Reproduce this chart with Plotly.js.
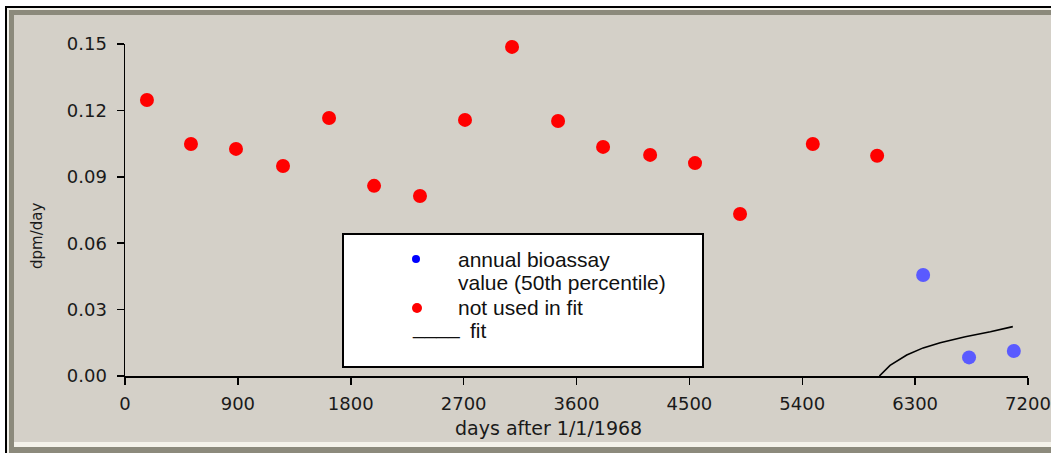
<!DOCTYPE html>
<html>
<head>
<meta charset="utf-8">
<script src="https://cdn.plot.ly/plotly-3.0.1.min.js"></script>
<style>
html,body{margin:0;padding:0;background:#ffffff;overflow:hidden;}
#chart{width:1051px;height:453px;}
</style>
</head>
<body>
<div id="chart"></div>
<script>
// ---- data ----
const notUsedDays = [175, 526, 885, 1260, 1627, 1986, 2352, 2711, 3086, 3453, 3812, 4187, 4545, 4904, 5484, 5997];
const notUsedDpm  = [0.1247, 0.1048, 0.1026, 0.0949, 0.1166, 0.0859, 0.0813, 0.1157, 0.1487, 0.1152, 0.1035, 0.0999, 0.0962, 0.0732, 0.1048, 0.0995];

const bioassayDays = [6364, 6730, 7087];
const bioassayDpm  = [0.0456, 0.0084, 0.0113];

const fitDays = [6015, 6100, 6233, 6364, 6500, 6700, 6900, 7079];
const fitDpm  = [0.0, 0.0048, 0.0095, 0.0127, 0.0150, 0.0177, 0.0200, 0.0223];

const xTickVals = [0, 900, 1800, 2700, 3600, 4500, 5400, 6300, 7200];
const yTickVals = [0, 0.03, 0.06, 0.09, 0.12, 0.15];

const legendLabels = ["annual bioassay", "value (50th percentile)", "not used in fit", "fit"];

// ---- layout geometry (pixels) ----
const W = 1051, H = 453;
const L = 125, R = 23, T = 44, B = 77;
const PW = W - L - R, PH = H - T - B;
const px = x => (x - L) / PW;
const py = y => (H - B - y) / PH;

const bg = '#d4d0c8';

const traces = [
  {
    x: fitDays, y: fitDpm, type: 'scatter', mode: 'lines',
    line: {color: '#000000', width: 1.6}, hoverinfo: 'skip', cliponaxis: false
  },
  {
    x: notUsedDays, y: notUsedDpm, type: 'scatter', mode: 'markers',
    marker: {color: '#ff0000', size: 14, line: {width: 0}}, cliponaxis: false
  },
  {
    x: bioassayDays, y: bioassayDpm, type: 'scatter', mode: 'markers',
    marker: {color: '#5a5aff', size: 14, line: {width: 0}}, cliponaxis: false
  }
];

function rectPx(x0, y0, x1, y1, fill, line, layer) {
  return {type: 'rect', xref: 'paper', yref: 'paper',
    x0: px(x0), x1: px(x1), y0: py(y1), y1: py(y0),
    fillcolor: fill, line: line || {width: 0}, layer: layer || 'below'};
}
function circlePx(cx, cy, r, fill) {
  return {type: 'circle', xref: 'paper', yref: 'paper',
    x0: px(cx - r), x1: px(cx + r), y0: py(cy + r), y1: py(cy - r),
    fillcolor: fill, line: {width: 0}, layer: 'above'};
}

const shapes = [
  // window frame
  rectPx(5, 6, 1100, 500, '#000000'),
  rectPx(7, 8, 1100, 500, '#f3f1ea'),
  rectPx(9, 10, 1100, 500, '#8c8a7c'),
  rectPx(14, 15, 1100, 442, bg),
  rectPx(14, 442, 1100, 447, '#f4f2ea'),
  rectPx(14, 447, 1100, 500, '#8c8a7c'),
  // legend box
  rectPx(343, 234, 703, 367, '#ffffff', {color: '#000000', width: 2}, 'above'),
  circlePx(416, 259, 4, '#0000ff'),
  circlePx(417, 308, 5, '#ff0000')
];

const legFont = {family: 'Liberation Sans, Arial, sans-serif', size: 21, color: '#111111'};
function ann(text, x, y, font, extra) {
  return Object.assign({text: text, xref: 'paper', yref: 'paper', x: px(x), y: py(y),
    xanchor: 'left', yanchor: 'middle', showarrow: false, font: font, borderpad: 0}, extra || {});
}

const annotations = [
  ann(legendLabels[0], 457, 259, legFont),
  ann(legendLabels[1], 457, 282, legFont),
  ann(legendLabels[2], 457, 307, legFont),
  ann('____', 411, 327, legFont),
  ann(legendLabels[3], 469, 330, legFont),
  // axis titles
  ann('days after 1/1/1968', 548, 428, {family: 'DejaVu Sans, sans-serif', size: 19, color: '#1a1a1a'}, {xanchor: 'center'}),
  ann('dpm/day', 37, 236, {family: 'DejaVu Sans, sans-serif', size: 15, color: '#1a1a1a'}, {xanchor: 'center', textangle: -90})
];

const tickFont = {family: 'DejaVu Sans, sans-serif', size: 18, color: '#1a1a1a'};

const layout = {
  width: W, height: H,
  margin: {l: L, r: R, t: T, b: B, pad: 0},
  paper_bgcolor: '#ffffff',
  plot_bgcolor: 'rgba(0,0,0,0)',
  showlegend: false,
  xaxis: {
    range: [0, 7200], tickvals: xTickVals, ticktext: xTickVals.map(String),
    showgrid: false, zeroline: false, showline: true, linecolor: '#000000', linewidth: 1.5,
    ticks: 'outside', ticklen: 7, tickwidth: 1.5, tickcolor: '#000000',
    tickfont: tickFont, ticklabelstandoff: 4
  },
  yaxis: {
    range: [0, 0.15], tickvals: yTickVals, ticktext: yTickVals.map(v => v.toFixed(2)),
    showgrid: false, zeroline: false, showline: true, linecolor: '#000000', linewidth: 1.5,
    ticks: 'outside', ticklen: 7, tickwidth: 1.5, tickcolor: '#000000',
    tickfont: tickFont, ticklabelstandoff: 6
  },
  shapes: shapes,
  annotations: annotations
};

Plotly.newPlot('chart', traces, layout, {displayModeBar: false, staticPlot: true});
</script>
</body>
</html>
